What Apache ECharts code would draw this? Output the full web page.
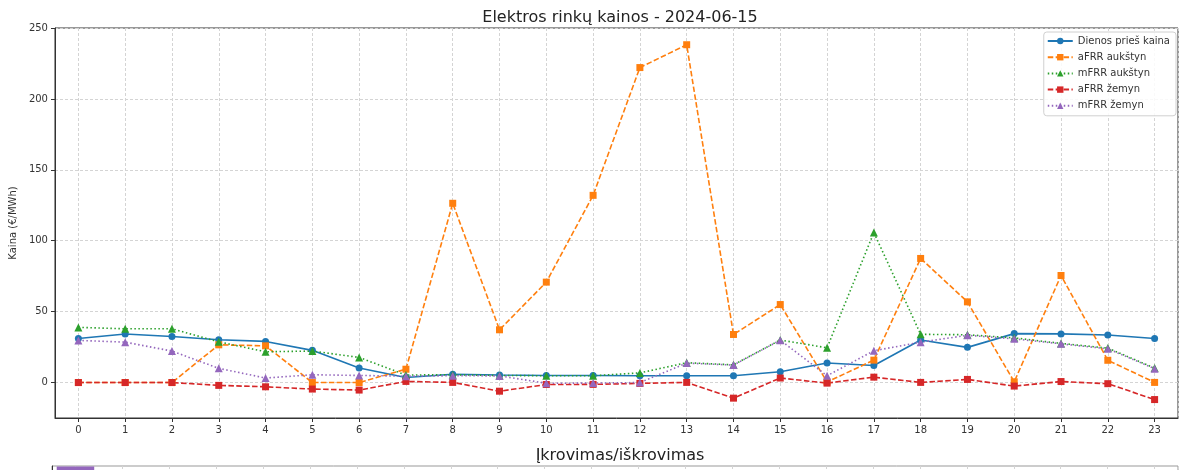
<!DOCTYPE html>
<html>
<head>
<meta charset="utf-8">
<script src="https://cdn.jsdelivr.net/npm/echarts@6/dist/echarts.min.js"></script>
<style>
  html, body { margin: 0; padding: 0; background: #fff; }
  #chart { width: 1184px; height: 470px; }
</style>
</head>
<body>
<div id="chart"></div>
<script>
// valandos
const hours = [0, 1, 2, 3, 4, 5, 6, 7, 8, 9, 10, 11, 12, 13, 14, 15, 16, 17, 18, 19, 20, 21, 22, 23]

const dayAhead = [31.1, 34.2, 32.5, 30.2, 29.0, 22.7, 10.2, 3.6, 5.8, 5.3, 5.0, 5.0, 4.8, 4.8, 4.8, 7.6, 13.8, 12.0, 30.0, 24.8, 34.5, 34.3, 33.5, 31.1]
const afrrUp = [0, 0, 0, 26.6, 25.9, 0, 0, 9.4, 126.4, 37.2, 70.8, 132.0, 222.1, 238.2, 33.9, 55.0, 0.4, 15.8, 87.5, 56.9, 0.5, 75.5, 15.7, 0.1]
const mfrrUp = [38.9, 37.9, 37.9, 28.7, 21.7, 22.2, 17.7, 5.3, 5.5, 5.0, 4.8, 4.8, 6.8, 14.0, 12.5, 30.0, 24.5, 105.8, 34.0, 33.7, 31.5, 27.6, 24.3, 10.2]
const afrrDown = [0, 0, 0, -2.0, -3.0, -4.6, -5.3, 0.8, 0.1, -6.1, -1.4, -1.3, -0.6, 0.1, -11.0, 3.2, -0.4, 3.8, 0.1, 2.2, -2.5, 0.7, -0.8, -12.0]
const mfrrDown = [29.7, 28.5, 22.2, 10.0, 3.2, 5.5, 5.0, 4.5, 4.8, 4.7, -0.5, -0.4, 0.0, 13.7, 12.3, 29.9, 4.8, 22.4, 28.5, 33.3, 30.8, 27.3, 23.8, 9.8]

// apatinis grafikas (matosi tik viršus)
const battery = [99, 0, 0, 0, 0, 0, 0, 0, 0, 0, 0, 0, 0, 0, 0, 0, 0, 0, 0, 0, 0, 0, 0, 0]

const toPairs = vals => hours.map((h, i) => [h, vals[i]])

const gridLine = { show: true, lineStyle: { color: '#d4d4d4', type: [3, 2], width: 1 } }
const txt = '#333'

function lineSeries(name, data, color, symbol, dash, size) {
  return {
    name,
    type: 'line',
    data: toPairs(data),
    symbol,
    symbolSize: size,
    showAllSymbol: true,
    lineStyle: { color, width: 1.6, type: dash },
    itemStyle: { color },
    emphasis: { disabled: true },
    animation: false
  }
}

const chart = echarts.init(document.getElementById('chart'))

chart.setOption({
  animation: false,
  textStyle: { fontFamily: 'DejaVu Sans' },
  title: [
    {
      text: 'Elektros rinkų kainos - 2024-06-15',
      left: 615,
      textAlign: 'center',
      top: 5,
      textStyle: { fontSize: 16, fontWeight: 'normal', color: '#222', fontFamily: 'DejaVu Sans' }
    },
    {
      text: 'Įkrovimas/iškrovimas',
      left: 615,
      textAlign: 'center',
      top: 443,
      textStyle: { fontSize: 16, fontWeight: 'normal', color: '#222', fontFamily: 'DejaVu Sans' }
    }
  ],
  legend: {
    orient: 'vertical',
    right: 8,
    top: 32,
    itemWidth: 25,
    itemHeight: 8,
    itemGap: 6.2,
    padding: [4, 6, 5, 3],
    backgroundColor: 'rgba(255,255,255,0.85)',
    borderColor: '#d0d0d0',
    borderWidth: 1,
    borderRadius: 3,
    textStyle: { fontSize: 10, color: txt, fontFamily: 'DejaVu Sans' },
    data: ['Dienos prieš kaina', 'aFRR aukštyn', 'mFRR aukštyn', 'aFRR žemyn', 'mFRR žemyn']
  },
  grid: [
    { left: 52, right: 6, top: 28, bottom: 52, show: true, borderColor: '#333', borderWidth: 1 },
    { left: 52, right: 6, top: 466, height: 200, show: true, borderColor: '#999', borderWidth: 1 }
  ],
  xAxis: [
    {
      type: 'value',
      gridIndex: 0,
      min: -0.5,
      max: 23.5,
      minInterval: 1,
      maxInterval: 1,
      splitNumber: 24,
      axisLine: { show: true, onZero: false, lineStyle: { color: '#333' } },
      axisTick: { show: true, length: 4, lineStyle: { color: '#333' } },
      axisLabel: { fontSize: 10, color: txt, margin: 7, showMinLabel: false, showMaxLabel: false },
      splitLine: gridLine
    },
    {
      type: 'value',
      gridIndex: 1,
      min: -0.5,
      max: 23.5,
      minInterval: 1,
      maxInterval: 1,
      splitNumber: 24,
      axisLine: { show: false, onZero: false },
      axisTick: { show: false },
      axisLabel: { show: false },
      splitLine: gridLine
    }
  ],
  yAxis: [
    {
      type: 'value',
      gridIndex: 0,
      min: -25,
      max: 250,
      minInterval: 50,
      maxInterval: 50,
      splitNumber: 5,
      name: 'Kaina (€/MWh)',
      nameLocation: 'middle',
      nameGap: 36,
      nameTextStyle: { fontSize: 10, color: txt },
      axisLine: { show: true, onZero: false, lineStyle: { color: '#333' } },
      axisTick: { show: true, length: 4, lineStyle: { color: '#333' } },
      axisLabel: { fontSize: 10, color: txt, margin: 7, showMinLabel: false },
      splitLine: gridLine
    },
    {
      type: 'value',
      gridIndex: 1,
      min: 0,
      max: 100,
      axisLine: { show: true, onZero: false, lineStyle: { color: '#333' } },
      axisTick: { show: false },
      axisLabel: { show: false },
      splitLine: { show: false }
    }
  ],
  series: [
    lineSeries('Dienos prieš kaina', dayAhead, '#1f77b4', 'circle', 'solid', 7),
    lineSeries('aFRR aukštyn', afrrUp, '#ff7f0e', 'rect', [5.5, 2.4], 7),
    lineSeries('mFRR aukštyn', mfrrUp, '#2ca02c', 'triangle', [1.5, 2.5], 8),
    lineSeries('aFRR žemyn', afrrDown, '#d62728', 'rect', [5.5, 2.4], 7),
    lineSeries('mFRR žemyn', mfrrDown, '#9467bd', 'triangle', [1.5, 2.5], 8),
    {
      name: 'Įkrovimas',
      type: 'bar',
      xAxisIndex: 1,
      yAxisIndex: 1,
      data: toPairs(battery),
      barWidth: 37.5,
      itemStyle: { color: '#9467bd' },
      animation: false
    }
  ]
})
</script>
</body>
</html>
